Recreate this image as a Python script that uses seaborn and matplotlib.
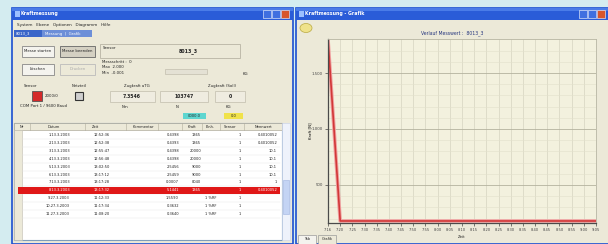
import matplotlib
matplotlib.use("Agg")
import matplotlib.pyplot as plt
from matplotlib.patches import Rectangle, Ellipse
from matplotlib.ticker import MultipleLocator
import pandas as pd
import seaborn as sns

# chart data
zeit = ['7:16', '7:20', '7:25', '7:30', '7:35', '7:40', '7:45', '7:50', '7:55', '8:00',
        '8:05', '8:10', '8:15', '8:20', '8:25', '8:30', '8:35', '8:40', '8:45', '8:50',
        '8:55', '9:00', '9:05']
kraft = [1800, 178, 178, 178, 178, 178, 178, 178, 178, 178, 178, 178,
         178, 178, 178, 178, 178, 178, 178, 178, 178, 178, 178]
y_ticks = [500, 1000, 1500]
y_labels = ['500', '1.000', '1.500']

# table data in the left window
tab_header = ['Nr', 'Datum', 'Zeit', 'Kommentar', '', 'Kraft', 'Einh.', 'Sensor', 'Nennwert']
tab_datum = ['1.13.3.2003', '2.13.3.2003', '3.13.3.2003', '4.13.3.2003', '5.13.3.2003',
             '6.13.3.2003', '7.13.3.2003', '8.13.3.2003', '9.27.3.2003', '10.27.3.2003',
             '11.27.3.2003']
tab_zeit = ['12:52:36', '12:52:38', '12:55:47', '12:56:48', '13:02:50', '13:17:12',
            '13:17:28', '13:17:32', '11:12:33', '11:17:34', '11:08:20']
tab_wert = ['0.4398', '0.4393', '0.4398', '0.4398', '2.5456', '2.5459', '0.0007',
            '5.1441', '1.5590', '0.3632', '0.3640']
tab_roh = ['1365', '1365', '20000', '20000', '9000', '9000', '8040', '1365', '', '', '']
tab_einh = ['', '', '', '', '', '', '', '', '1 %RF', '1 %RF', '1 %RF']
tab_sensor = ['1'] * 11
tab_nenn = ['0.4010052', '0.4010052', '10.1', '10.1', '10.1', '10.1', '1', '0.4010052',
            '', '', '']
selected_row = 7

W, H = 608, 244
fig = plt.figure(figsize=(W / 100, H / 100), dpi=100, facecolor='#d4ecf0')

# background layer in pixel coordinates for the two application windows
bg = fig.add_axes([0, 0, 1, 1], zorder=0)
bg.set_xlim(0, W)
bg.set_ylim(H, 0)
bg.axis('off')

def box(x, y, w, h, fc, ec='none', lw=0.6, z=1):
    bg.add_patch(Rectangle((x, y), w, h, facecolor=fc, edgecolor=ec, lw=lw, zorder=z))

def txt(x, y, s, size=3.2, color='#222222', ha='left', weight='normal', z=5):
    bg.text(x, y, s, fontsize=size, color=color, ha=ha, va='center', weight=weight, zorder=z)

def window(x0, x1, title):
    box(x0, 8, x1 - x0, H - 8, '#ece9d8', '#1c4fd0', 1.2)
    box(x0, 8, x1 - x0, 12, '#2a5cd8')
    box(x0, 8, x1 - x0, 3, '#4a7ce8')
    txt(x0 + 9, 14, title, 3.4, 'white', weight='bold')
    box(x0 + 3, 10.5, 5, 6, '#9cc0ff')
    for i, c in enumerate(['#3f6fe0', '#3f6fe0', '#d8562c']):
        box(x1 - 30 + i * 9, 9.5, 8, 8, c, 'white', 0.4)

# ---------------- left window ----------------
window(12, 293, 'Kraftmessung')
txt(17, 25, 'System   Ebene   Optionen   Diagramm   Hilfe', 3.0)
box(14, 30, 28, 7, '#3a66c9')
txt(16, 33.5, '8013_3', 2.8, 'white')
box(42, 30, 50, 7, '#6d8fd8')
txt(45, 33.5, 'Messung  |  Grafik', 2.8, 'white')

box(22, 46, 32, 11, '#f4f3ee', '#888888')
txt(38, 51.5, 'Messe starten', 2.8, ha='center')
box(60, 46, 35, 11, '#d4d0c2', '#666666')
txt(77.5, 51.5, 'Messe beenden', 2.8, ha='center')
box(22, 64, 32, 11, '#f4f3ee', '#888888')
txt(38, 69.5, 'Löschen', 2.8, ha='center')
box(60, 64, 35, 11, '#ece9d8', '#bbbbbb')
txt(77.5, 69.5, 'Drucken', 2.8, '#aaaaaa', ha='center')

box(100, 44, 140, 14, '#ece9d8', '#b8b4a4')
txt(103, 48, 'Sensor', 2.8)
txt(188, 51, '8013_3', 3.4, weight='bold', ha='center')
txt(102, 62, 'Messschritt :  0', 2.8)
txt(102, 67.5, 'Max  2.000', 2.8)
txt(102, 73, 'Min  -0.001', 2.8)
box(165, 69, 42, 5, '#e4e1d4', '#c8c4b4')
txt(243, 74, 'KG', 2.8)

txt(24, 86, 'Sensor', 2.8)
txt(72, 86, 'Netzteil', 2.8)
txt(124, 86, 'Zugkraft aTG', 2.8)
txt(208, 86, 'Zugkraft (Soll)', 2.8)
box(32, 91, 10, 10, '#d42a2a', '#555555')
txt(45, 96, '2000/0', 2.8)
box(75, 92, 8, 8, '#cfcfcf', '#333333', 0.8)
box(110, 91, 45, 11, '#efece0', '#c8c4b4')
txt(132, 96.5, '7.3546', 3.3, weight='bold', ha='center')
box(160, 91, 48, 11, '#efece0', '#c8c4b4')
txt(184, 96.5, '103747', 3.3, weight='bold', ha='center')
box(215, 91, 30, 11, '#efece0', '#c8c4b4')
txt(230, 96.5, '0', 3.3, weight='bold', ha='center')
txt(20, 106, 'COM Port 1 / 9600 Baud', 2.8)
txt(122, 107, 'Nm', 2.8)
txt(176, 107, 'N', 2.8)
txt(226, 107, 'KG', 2.8)
box(183, 113, 23, 6, '#5ed6d0')
txt(194.5, 116, '0000.0', 2.6, ha='center')
box(224, 113, 19, 6, '#f0e24a')
txt(233.5, 116, '0.0', 2.6, ha='center')

# table
tx0, ty0, tw = 14, 123, 268
box(tx0, ty0, tw, 117, 'white', '#7f9db9', 0.8)
box(tx0, ty0, tw, 7, '#ece9d8', '#b0ac9c', 0.5)
col_x = [20, 48, 92, 133, 162, 188, 206, 224, 255]
for cx, head in zip(col_x, tab_header):
    txt(cx, ty0 + 3.5, head, 2.6)
for cx in [30, 85, 126, 158, 182, 202, 220, 244]:
    bg.plot([cx, cx], [ty0, ty0 + 7], color='#b0ac9c', lw=0.4, zorder=3)
box(tx0, ty0 + 7, 8, 110, '#ece9d8', '#c0bcb0', 0.4)
row_h = 7.9
for i in range(len(tab_datum)):
    yc = ty0 + 12 + i * row_h
    sel = i == selected_row
    if sel:
        box(tx0 + 4, yc - 3.6, tw - 6, 7.2, '#e01818', z=2)
    c = 'white' if sel else '#222222'
    bg.plot([tx0 + 8, tx0 + tw - 2], [yc + 3.9, yc + 3.9], color='#e4e4e4', lw=0.3, zorder=1.5)
    txt(70, yc, tab_datum[i], 2.6, c, ha='right')
    txt(110, yc, tab_zeit[i], 2.6, c, ha='right')
    txt(179, yc, tab_wert[i], 2.6, c, ha='right')
    txt(201, yc, tab_roh[i], 2.6, c, ha='right')
    txt(205, yc, tab_einh[i], 2.6, c)
    txt(241, yc, tab_sensor[i], 2.6, c, ha='right')
    txt(277, yc, tab_nenn[i], 2.6, c, ha='right')
box(282, ty0, 8, 117, '#eef2fb', '#c4d0ea', 0.4)
box(283, 180, 6, 34, '#c4d4f4', '#9fb4e0', 0.4)

# ---------------- right window ----------------
window(296, 609, 'Kraftmessung - Grafik')
bg.add_patch(Ellipse((306, 28), 12, 9, facecolor='#efe28a', edgecolor='#b8a840', lw=0.5, zorder=2))
txt(452, 33, 'Verlauf Messwert :  8013_3', 3.3, '#26367e', ha='center')
txt(462, 237, 'Zeit', 2.8, ha='center')
bg.text(310, 131, 'Kraft [N]', fontsize=2.8, rotation=90, ha='center', va='center', zorder=5)
box(298, 235, 18, 9, '#f4f3ee', '#9a9a9a', 0.5)
txt(307, 239.5, 'Tab', 2.6, ha='center')
box(318, 235, 18, 9, '#ece9d8', '#9a9a9a', 0.5)
txt(327, 239.5, 'Grafik', 2.6, ha='center')

# ---------------- chart ----------------
left, right, top, bottom = 328, 596, 39, 223
ax = fig.add_axes([left / W, (H - bottom) / H, (right - left) / W, (bottom - top) / H], zorder=2)
df = pd.DataFrame({'pos': range(len(zeit)), 'kraft': kraft})
sns.lineplot(data=df, x='pos', y='kraft', ax=ax, color='#f0a0a0', lw=2.6)
sns.lineplot(data=df, x='pos', y='kraft', ax=ax, color='#d23838', lw=1.2)
ax.set_facecolor('#f3f1de')
ax.set_xlim(0, len(zeit) - 1)
ax.set_ylim(160, 1804)
ax.set_xticks(range(len(zeit)))
ax.set_xticklabels(zeit, fontsize=2.6, color='#333333')
ax.set_yticks(y_ticks)
ax.set_yticklabels(y_labels, fontsize=2.8, color='#333333')
ax.yaxis.set_minor_locator(MultipleLocator(100))
ax.grid(True, which='major', axis='x', color='#d6d4c0', lw=0.5)
ax.grid(True, which='major', axis='y', color='#b4b29e', lw=0.6)
ax.grid(True, which='minor', axis='y', color='#e2e0cc', lw=0.4)
ax.tick_params(length=2, width=0.5, pad=1.5, colors='#444444')
ax.tick_params(which='minor', length=0)
ax.set_xlabel('')
ax.set_ylabel('')
for side in ['left', 'bottom']:
    ax.spines[side].set_color('#4a4a4a')
    ax.spines[side].set_linewidth(0.9)
for side in ['top', 'right']:
    ax.spines[side].set_color('#b8b6a4')
    ax.spines[side].set_linewidth(0.6)

fig.savefig('out.png', dpi=100, facecolor=fig.get_facecolor())
